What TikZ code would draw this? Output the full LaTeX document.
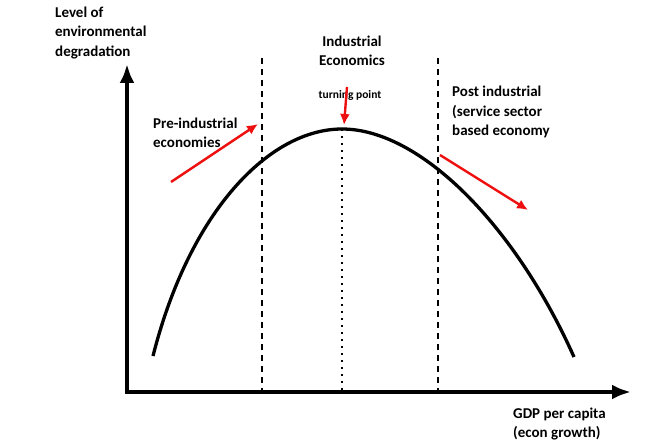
\documentclass[tikz,border=0pt]{standalone}
\usepackage{fontspec}
\setmainfont{Carlito}
\usetikzlibrary{arrows.meta}
\definecolor{ekcRed}{RGB}{238,16,16}
\tikzset{
  axis/.style={line width=4pt,line join=miter,
    {Latex[length=19pt,width=15pt]}-{Latex[length=19pt,width=15pt]}},
  kuznets/.style={line width=3.3pt},
  divider/.style={line width=2.4pt,dash pattern=on 6pt off 5pt},
  peakline/.style={line width=1.5pt,dash pattern=on 1.5pt off 5.5pt},
  trend/.style={draw=ekcRed,line width=2.4pt,-{Latex[length=11pt,width=10pt]}},
  lbl/.style={font=\fontsize{15}{19.5}\selectfont\bfseries,align=left,inner sep=0pt}
}

\begin{document}
\begin{tikzpicture}[x=1pt,y=-1pt]
  \useasboundingbox (0,0) rectangle (656,444);
  % axes
  \coordinate (ytop) at (127,64);
  \coordinate (origin) at (127,392);
  \coordinate (xend) at (631,392);
  \draw[axis] (ytop) -- (origin) -- (xend);
  % stage dividers
  \coordinate (preTop) at (262,58);
  \coordinate (preBot) at (262,392);
  \coordinate (postTop) at (438,58);
  \coordinate (postBot) at (438,392);
  \coordinate (peak) at (342,129);
  \coordinate (peakBot) at (342,392);
  \draw[divider] (preTop) -- (preBot);
  \draw[divider] (postTop) -- (postBot);
  \draw[peakline] (peak) -- (peakBot);
  % the curve
  \draw[kuznets] (153,356) .. controls (190,210) and (270,129) .. (peak)
    .. controls (420,129) and (515,225) .. (574,357);
  % labels
  \node[lbl, anchor=west] (ylabel) at (55,33) {Level of\\environmental\\degradation};
  \node[lbl, align=center] (industrial) at (352,51) {Industrial\\Economics};
  \node[lbl, font=\fontsize{11.5}{13}\selectfont\bfseries] (turning) at (350,95) {turning point};
  \node[lbl, anchor=west] (preind) at (153,133) {Pre-industrial\\economies};
  \node[lbl, anchor=west] (postind) at (452,112) {Post industrial\\(service sector\\based economy};
  \node[lbl, anchor=west] (xlabel) at (513,424) {GDP per capita\\(econ growth)};
  % red trend arrows
  \coordinate (riseFrom) at (171,182);
  \coordinate (riseTo) at (258,124);
  \coordinate (turnFrom) at (347,87);
  \coordinate (turnTo) at (344,125);
  \coordinate (fallFrom) at (440,155);
  \coordinate (fallTo) at (528,210);
  \draw[trend] (riseFrom) -- (riseTo);
  \draw[trend] (turnFrom) -- (turnTo);
  \draw[trend] (fallFrom) -- (fallTo);
\end{tikzpicture}
\end{document}
